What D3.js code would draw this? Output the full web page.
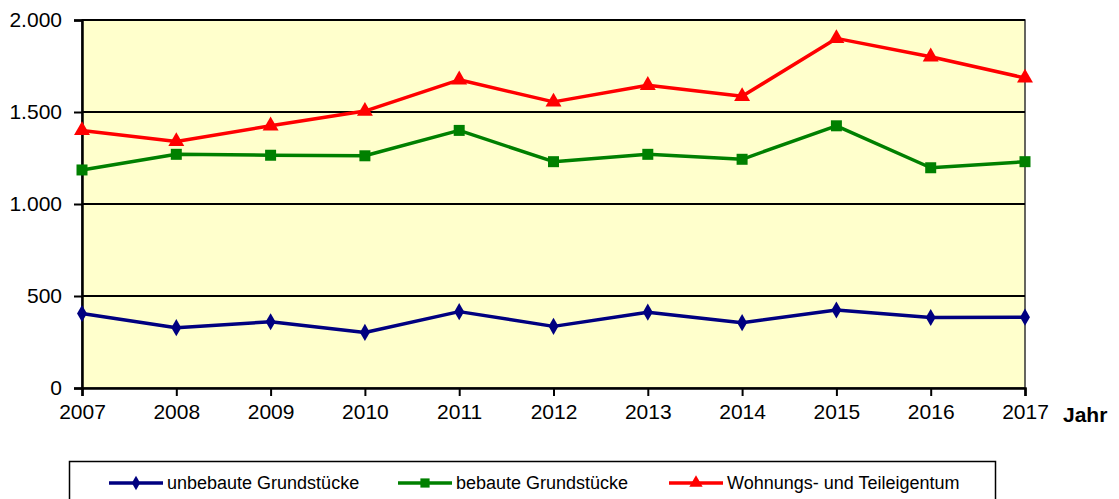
<!DOCTYPE html>
<html>
<head>
<meta charset="utf-8">
<script src="https://cdn.jsdelivr.net/npm/d3@7"></script>
<style>
  body { margin: 0; background: #fff; }
  svg { display: block; font-family: "Liberation Sans", Arial, sans-serif; }
</style>
</head>
<body>
<svg id="chart" width="1119" height="499"></svg>
<script>
let years = [2007, 2008, 2009, 2010, 2011, 2012, 2013, 2014, 2015, 2016, 2017];
let unbebaut = [405, 328, 360, 302, 415, 335, 412, 355, 424, 383, 385];
let bebaut = [1185, 1270, 1265, 1262, 1400, 1230, 1270, 1243, 1425, 1197, 1230];
let wohnung = [1400, 1340, 1425, 1505, 1675, 1555, 1645, 1585, 1900, 1800, 1685];
let yTicks = [0, 500, 1000, 1500, 2000];

let seriesList = [
    {name: "unbebaute Grundstücke", values: unbebaut, color: "#000080", symbol: d3.symbolDiamond, size: 85},
    {name: "bebaute Grundstücke", values: bebaut, color: "#008000", symbol: d3.symbolSquare, size: 121},
    {name: "Wohnungs- und Teileigentum", values: wohnung, color: "#ff0000", symbol: d3.symbolTriangle, size: 110}
];

let svg = d3.select("svg#chart"),
    margin = {top: 20, right: 94, bottom: 111, left: 82},
    width = +svg.attr("width") - margin.left - margin.right,
    height = +svg.attr("height") - margin.top - margin.bottom,
    g = svg.append("g").attr("transform", "translate(" + margin.left + "," + margin.top + ")");

let x = d3.scaleLinear()
    .domain([years[0], years[years.length - 1]])
    .range([0, width]);
let y = d3.scaleLinear()
    .domain([0, 2000])
    .range([height, 0]);

// plot area
g.append("rect")
    .attr("width", width)
    .attr("height", height)
    .attr("fill", "#ffffcc")
    .attr("stroke", "#333")
    .attr("stroke-width", 1.5);

// gridlines
g.append("g")
    .selectAll("line")
    .data(yTicks.filter(d => d > 0))
    .enter().append("line")
    .attr("x1", 0).attr("x2", width)
    .attr("y1", d => y(d)).attr("y2", d => y(d))
    .attr("stroke", "#000")
    .attr("stroke-width", 2);

let fmt = d3.format(",");
let yAxis = g.append("g")
    .call(d3.axisLeft(y).tickValues(yTicks).tickSize(8).tickPadding(12)
        .tickFormat(d => fmt(d).replace(/,/g, ".")));
let xAxis = g.append("g")
    .attr("transform", "translate(0," + height + ")")
    .call(d3.axisBottom(x).tickValues(years).tickSize(8).tickPadding(8).tickFormat(d3.format("d")));

[yAxis, xAxis].forEach(function(a) {
    a.select(".domain").attr("stroke", "#000").attr("stroke-width", 2.5);
    a.selectAll(".tick line").attr("stroke", "#000").attr("stroke-width", 2);
    a.selectAll(".tick text")
        .attr("fill", "#000")
        .style("font-size", "21px")
        .style("font-family", "'Liberation Sans', Arial, sans-serif");
});

svg.append("text")
    .attr("x", 1063)
    .attr("y", 422)
    .style("font-size", "21px")
    .style("font-weight", "bold")
    .text("Jahr");

let line = d3.line()
    .x(function(d, i) { return x(years[i]); })
    .y(function(d) { return y(d); });

seriesList.forEach(function(s) {
    g.append("path")
        .datum(s.values)
        .attr("fill", "none")
        .attr("stroke", s.color)
        .attr("stroke-width", 3.5)
        .attr("stroke-linejoin", "round")
        .attr("d", line);
    g.selectAll(null)
        .data(s.values)
        .enter().append("path")
        .attr("transform", (d, i) => "translate(" + x(years[i]) + "," + y(d) + ")")
        .attr("d", d3.symbol().type(s.symbol).size(s.size))
        .attr("fill", s.color);
});

// legend
let legend = svg.append("g");
legend.append("rect")
    .attr("x", 69.5)
    .attr("y", 461.5)
    .attr("width", 926)
    .attr("height", 60)
    .attr("fill", "#fff")
    .attr("stroke", "#000")
    .attr("stroke-width", 1.5);

let legendX = [109, 398, 669];
seriesList.forEach(function(s, i) {
    let lg = legend.append("g").attr("transform", "translate(" + legendX[i] + ",483)");
    lg.append("line")
        .attr("x1", 0).attr("x2", 54)
        .attr("stroke", s.color)
        .attr("stroke-width", 3.5);
    lg.append("path")
        .attr("transform", "translate(27,0)")
        .attr("d", d3.symbol().type(s.symbol).size(s.size * 0.7))
        .attr("fill", s.color);
    lg.append("text")
        .attr("x", 58)
        .attr("dy", "0.35em")
        .style("font-size", "18px")
        .text(s.name);
});
</script>
</body>
</html>
